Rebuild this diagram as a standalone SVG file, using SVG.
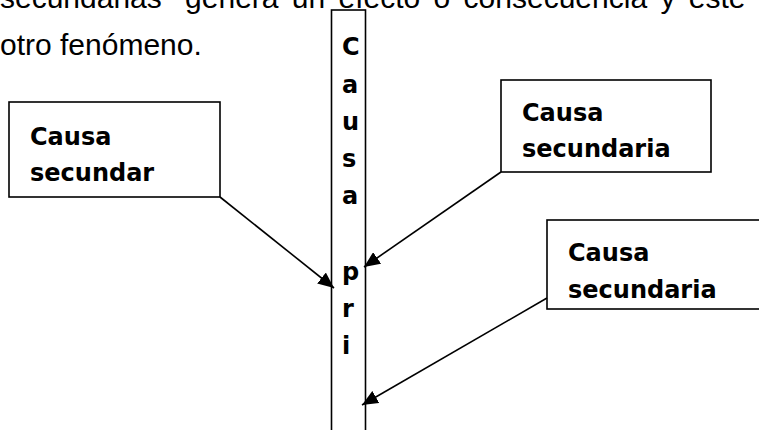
<svg xmlns="http://www.w3.org/2000/svg" width="759" height="430" viewBox="0 0 759 430">
<style>
.body{font-family:"Liberation Sans",Arial,sans-serif;font-size:30px;fill:#000}
.lbl{font-family:"DejaVu Sans",sans-serif;font-weight:bold;font-size:24px;fill:#000}
.box{fill:#fff;stroke:#000;stroke-width:1.6}
.conn{stroke:#000;stroke-width:1.6;fill:none}
</style>
<defs>
<marker id="ah" markerUnits="userSpaceOnUse" markerWidth="18" markerHeight="14" refX="16" refY="7" orient="auto">
<path d="M0,0 L16,7 L0,14 Z" fill="#000"/>
</marker>
</defs>
<rect width="759" height="430" fill="#fff"/>
<text class="body" x="0" y="8" word-spacing="5">secundarias” genera un efecto o consecuencia y este</text>
<text class="body" x="0" y="55">otro fenómeno.</text>
<g id="causa-principal">
<rect class="box" x="331.5" y="10" width="34" height="440"/>
<text class="lbl" x="342" y="55">C</text>
<text class="lbl" x="342" y="93">a</text>
<text class="lbl" x="342" y="130">u</text>
<text class="lbl" x="342" y="167">s</text>
<text class="lbl" x="342" y="204">a</text>
<text class="lbl" x="342" y="280">p</text>
<text class="lbl" x="342" y="317">r</text>
<text class="lbl" x="342" y="354">i</text>
</g>
<g id="causa-secundar">
<rect class="box" x="9" y="102" width="211" height="95"/>
<text class="lbl" x="30" y="145">Causa</text>
<text class="lbl" x="30" y="181">secundar</text>
</g>
<g id="causa-secundaria-1">
<rect class="box" x="501" y="80" width="210" height="92"/>
<text class="lbl" x="522" y="121">Causa</text>
<text class="lbl" x="522" y="157">secundaria</text>
</g>
<g id="causa-secundaria-2">
<rect class="box" x="547" y="220" width="230" height="89"/>
<text class="lbl" x="568" y="261">Causa</text>
<text class="lbl" x="568" y="298">secundaria</text>
</g>
<g id="connectors">
<line class="conn" x1="220" y1="197" x2="334" y2="288" marker-end="url(#ah)"/>
<line class="conn" x1="501" y1="172" x2="364" y2="267" marker-end="url(#ah)"/>
<line class="conn" x1="547" y1="298" x2="362" y2="405" marker-end="url(#ah)"/>
</g>
</svg>
